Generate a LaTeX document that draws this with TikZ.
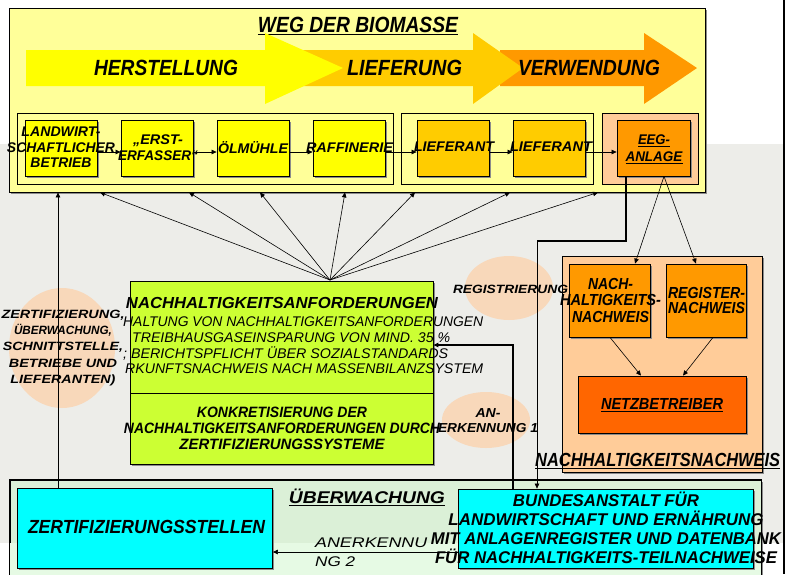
\documentclass[tikz,border=0pt]{standalone}
\usepackage{fontspec}
\setmainfont{Liberation Sans}
\usepackage{graphicx}
\usetikzlibrary{arrows.meta,shadows,shapes.geometric}
\newcommand\fw[2]{\resizebox{#1pt}{\height}{#2}}
\definecolor{cpale}{HTML}{FFFF99}
\definecolor{cyel}{HTML}{FFFF00}
\definecolor{cgold}{HTML}{FFCC00}
\definecolor{corange}{HTML}{FF9900}
\definecolor{cdark}{HTML}{FF6600}
\definecolor{cpeach}{HTML}{FFCC99}
\definecolor{clime}{HTML}{CCFF33}
\definecolor{ccyan}{HTML}{00FFFF}
\definecolor{cgray}{HTML}{EDEDE9}
\definecolor{ccirc}{HTML}{F8D8BA}
\definecolor{cgreen}{HTML}{DBF0D7}
\definecolor{cgreenl}{HTML}{E6FAE4}
\tikzset{
  box/.style={draw=black, line width=0.8pt, inner sep=0pt,
    drop shadow={shadow xshift=1.5pt, shadow yshift=-1.5pt, fill=black!45, opacity=1}},
  grp/.style={draw=black, line width=0.8pt, inner sep=0pt},
  circ/.style={ellipse, fill=ccirc, inner sep=0pt, draw=none},
  lbl/.style={inner sep=0pt, align=center},
  arr/.style={-{Triangle[length=5pt,width=4.5pt]}, line width=0.6pt},
  thickline/.style={line width=1.3pt},
}
\begin{document}
\begin{tikzpicture}[x=1pt,y=-1pt]
\useasboundingbox (0,0) rectangle (785,574);
% background
\fill[cgray] (0,144) rectangle (783,543);
% Ueberwachung box
\node[box, fill=cgreen, minimum width=751pt, minimum height=110pt] (ueb) at (385.5,535) {};
\fill[cgreenl] (ueb.west |- 0,543) rectangle (ueb.south east);
\draw[line width=0.8pt] (ueb.north west) rectangle (ueb.south east);
% top box
\node[box, fill=cpale, minimum width=696pt, minimum height=184pt] (top) at (357,100) {};
\node[lbl, font=\fontsize{22}{24}\selectfont\bfseries\itshape] (title) at (358,26) {\fw{200}{\underline{WEG DER BIOMASSE}}};
% big arrows
\fill[corange] (500,50) -- (644,50) -- (644,33) -- (697,68) -- (644,104) -- (644,86) -- (500,86) -- cycle;
\fill[cgold] (300,50) -- (473,50) -- (473,33) -- (523,68) -- (473,104) -- (473,86) -- (300,86) -- cycle;
\fill[cyel] (26,50) -- (265,50) -- (265,33) -- (343,68) -- (265,104) -- (265,86) -- (26,86) -- cycle;
\node[lbl, font=\fontsize{22}{22}\selectfont\bfseries\itshape] (herst) at (166,68) {\fw{144}{HERSTELLUNG}};
\node[lbl, font=\fontsize{22}{22}\selectfont\bfseries\itshape] (liefer) at (404.5,68) {\fw{115}{LIEFERUNG}};
\node[lbl, font=\fontsize{22}{22}\selectfont\bfseries\itshape] (verw) at (589,68) {\fw{142}{VERWENDUNG}};
% groups
\node[grp, minimum width=376pt, minimum height=71pt] (g1) at (205,148.5) {};
\node[grp, minimum width=192pt, minimum height=71pt] (g2) at (497,148.5) {};
\node[grp, fill=cpeach, minimum width=96pt, minimum height=71pt] (g3) at (650,148.5) {};
% chain boxes
\node[box, fill=cyel, minimum width=72pt, minimum height=56pt] (b1) at (61,148) {};
\node[box, fill=cyel, minimum width=72pt, minimum height=56pt] (b2) at (157,148) {};
\node[box, fill=cyel, minimum width=72pt, minimum height=56pt] (b3) at (253,148) {};
\node[box, fill=cyel, minimum width=72pt, minimum height=56pt] (b4) at (349,148) {};
\node[box, fill=cgold, minimum width=72pt, minimum height=56pt] (b5) at (453,148) {};
\node[box, fill=cgold, minimum width=72pt, minimum height=56pt] (b6) at (549,148) {};
\node[box, fill=corange, minimum width=73pt, minimum height=56pt] (b7) at (653.5,148) {};
\draw[arr] (b1.east |- 0,152) -- (b2.west |- 0,152);
\draw[arr] (b2.east |- 0,152) -- (b3.west |- 0,152);
\draw[arr] (b3.east |- 0,152) -- (b4.west |- 0,152);
\draw[arr] (b4.east |- 0,152) -- (b5.west |- 0,152);
\draw[arr] (b5.east |- 0,152) -- (b6.west |- 0,152);
\draw[arr] (b6.east |- 0,152) -- (b7.west |- 0,152);
\node[lbl, font=\fontsize{14}{15.5}\selectfont\bfseries\itshape] (t1) at (61,147.5) {\fw{79}{LANDWIRT-}\\\fw{108}{SCHAFTLICHER}\\\fw{61}{BETRIEB}};
\node[lbl, font=\fontsize{14}{15.5}\selectfont\bfseries\itshape] (t2) at (158,147.5) {\fw{50}{„ERST-}\\\fw{80}{ERFASSER“}};
\node[lbl, font=\fontsize{14}{15.5}\selectfont\bfseries\itshape] (t3) at (253,148) {\fw{70}{ÖLMÜHLE}};
\node[lbl, font=\fontsize{14}{15.5}\selectfont\bfseries\itshape] (t4) at (349.5,148) {\fw{87}{RAFFINERIE}};
\node[lbl, font=\fontsize{14}{15.5}\selectfont\bfseries\itshape] (t5) at (454,147) {\fw{80}{LIEFERANT}};
\node[lbl, font=\fontsize{14}{15.5}\selectfont\bfseries\itshape] (t6) at (551,147) {\fw{82}{LIEFERANT}};
\node[lbl, font=\fontsize{14}{17}\selectfont\bfseries\itshape] (t7) at (654,149) {\fw{32}{\underline{EEG-}}\\\fw{57}{\underline{ANLAGE}}};
% circles
\node[circ, minimum width=106pt, minimum height=120pt] (c1) at (62,348) {};
\node[circ, minimum width=88pt, minimum height=64pt] (c2) at (509,288) {};
\node[circ, minimum width=88pt, minimum height=56pt] (c3) at (486,420) {};
% requirement boxes
\node[box, fill=clime, minimum width=303pt, minimum height=112pt] (req1) at (281.5,337) {};
\node[box, fill=clime, minimum width=303pt, minimum height=71pt] (req2) at (281.5,428.5) {};
% right panel
\node[box, fill=cpeach, minimum width=200pt, minimum height=216pt] (pan) at (662,364) {};
\node[box, fill=corange, minimum width=81pt, minimum height=73pt] (nb1) at (609.5,300.5) {};
\node[box, fill=corange, minimum width=80pt, minimum height=73pt] (nb2) at (706,300.5) {};
\node[box, fill=cdark, minimum width=168pt, minimum height=57pt] (netz) at (662,404.5) {};
% bottom boxes
\node[box, fill=ccyan, minimum width=255pt, minimum height=80pt] (zst) at (145,528) {};
\node[box, fill=ccyan, minimum width=295pt, minimum height=79pt] (bund) at (605.5,528.5) {};
% fan arrows
\coordinate (fan) at (330,280);
\foreach \xx in {100,189,260,345,415,510,598}
  \draw[arr] (fan) -- (top.south -| \xx,0);
\draw[arr] (zst.north -| 58,0) -- (top.south -| 58,0);
% EEG connections
\draw[arr] (b7.south -| 664,0) -- (nb1.north -| 635,0);
\draw[arr] (b7.south -| 664,0) -- (nb2.north -| 696,0);
\draw[arr] (nb1.south -| 610,0) -- (netz.north -| 641,0);
\draw[arr] (nb2.south -| 713,0) -- (netz.north -| 683,0);
\coordinate (r1) at (537,241);
\draw[thickline] (b7.south -| 626,0) |- (r1);
\draw[arr] (r1) -- (bund.north -| r1);
\draw[arr, line width=1.1pt] (bund.north -| 513,0) |- (req1.east |- 0,345);
\draw[arr] (bund.west |- 0,552) -- (zst.east |- 0,552);
% texts
\node[lbl, font=\fontsize{16}{16}\selectfont\bfseries\itshape] (rt) at (282,303) {\fw{312}{NACHHALTIGKEITSANFORDERUNGEN}};
\node[inner sep=0pt, align=left, anchor=west, font=\fontsize{14}{15.7}\selectfont\itshape] (rl) at (123,345.5) {\fw{360}{HALTUNG VON NACHHALTIGKEITSANFORDERUNGEN}\\\hspace*{9pt}\fw{318}{TREIBHAUSGASEINSPARUNG VON MIND. 35 \%}\\\fw{325}{; BERICHTSPFLICHT ÜBER SOZIALSTANDARDS}\\\hspace*{2pt}\fw{358}{RKUNFTSNACHWEIS NACH MASSENBILANZSYSTEM}};
\node[lbl, font=\fontsize{15}{15.7}\selectfont\bfseries\itshape] (r2t) at (282,428.5) {\fw{170}{KONKRETISIERUNG DER}\\\fw{316}{NACHHALTIGKEITSANFORDERUNGEN DURCH}\\\fw{205}{ZERTIFIZIERUNGSSYSTEME}};
\node[lbl, font=\fontsize{12}{16.3}\selectfont\bfseries\itshape] (c1t) at (63,348) {\fw{123}{ZERTIFIZIERUNG,}\\\fw{98}{ÜBERWACHUNG,}\\\fw{120}{SCHNITTSTELLE,}\\\fw{108}{BETRIEBE UND}\\\fw{105}{LIEFERANTEN)}};
\node[lbl, font=\fontsize{12}{12}\selectfont\bfseries\itshape] (c2t) at (510.5,289) {\fw{115}{REGISTRIERUNG}};
\node[lbl, font=\fontsize{13}{15}\selectfont\bfseries\itshape] (c3t) at (488,420.5) {\fw{25}{AN-}\\\fw{100}{ERKENNUNG 1}};
\node[lbl, font=\fontsize{16}{16.5}\selectfont\bfseries\itshape] (nb1t) at (610.5,300) {\fw{45}{NACH-}\\\fw{101}{HALTIGKEITS-}\\\fw{77}{NACHWEIS}};
\node[lbl, font=\fontsize{16}{15}\selectfont\bfseries\itshape] (nb2t) at (706.5,300.5) {\fw{77}{REGISTER-}\\\fw{77}{NACHWEIS}};
\node[lbl, font=\fontsize{16}{16}\selectfont\bfseries\itshape] (netzt) at (662,405) {\fw{122}{\underline{NETZBETREIBER}}};
\node[inner sep=0pt, anchor=west, font=\fontsize{19}{19}\selectfont\bfseries\itshape] (pant) at (535,461) {\fw{245}{\underline{NACHHALTIGKEITSNACHWEIS}}};
\node[lbl, font=\fontsize{17}{17}\selectfont\bfseries\itshape] (uebt) at (367,497) {\fw{156}{\underline{ÜBERWACHUNG}}};
\node[lbl, font=\fontsize{19}{19}\selectfont\bfseries\itshape] (zstt) at (146.5,527) {\fw{237}{ZERTIFIZIERUNGSSTELLEN}};
\node[lbl, font=\fontsize{17}{19}\selectfont\bfseries\itshape] (bundt) at (606,528) {\fw{186}{BUNDESANSTALT FÜR}\\\fw{315}{LANDWIRTSCHAFT UND ERNÄHRUNG}\\\fw{350}{MIT ANLAGENREGISTER UND DATENBANK}\\\fw{342}{FÜR NACHHALTIGKEITS-TEILNACHWEISE}};
\node[inner sep=0pt, align=left, anchor=west, font=\fontsize{14}{19}\selectfont\itshape] (anerk) at (315,552.5) {\fw{112}{ANERKENNU}\\\fw{40}{NG 2}};
% right edge line
\draw[line width=2pt] (784,0) -- (784,574);
\end{tikzpicture}
\end{document}
